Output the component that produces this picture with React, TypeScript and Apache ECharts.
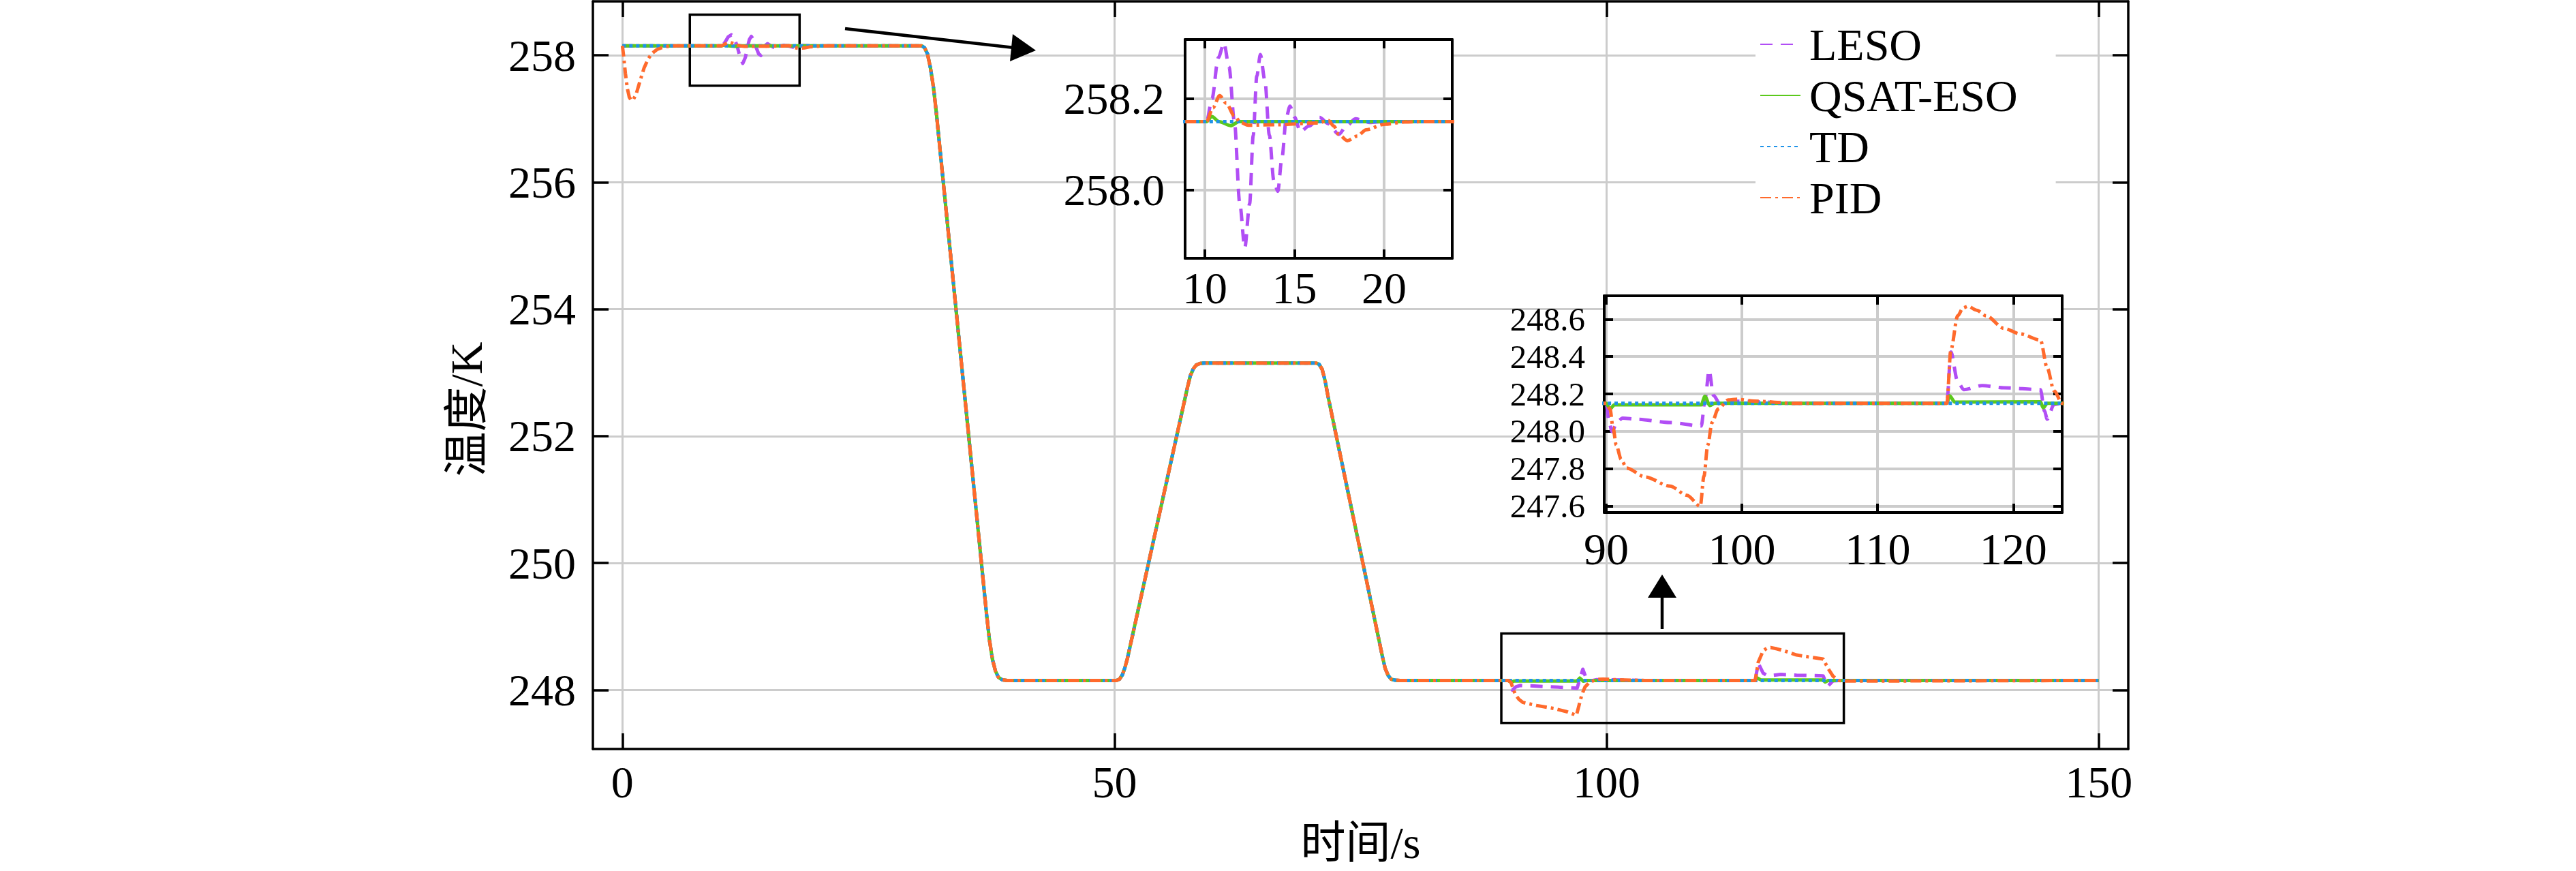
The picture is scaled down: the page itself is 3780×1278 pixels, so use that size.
import React, { useEffect, useRef } from 'react';
import * as echarts from 'echarts';

// ---------- data ----------
const SERIES_NAMES = ['LESO', 'QSAT-ESO', 'TD', 'PID'];

const X_TICKS_MAIN = [0, 50, 100, 150];
const Y_TICKS_MAIN = [248, 250, 252, 254, 256, 258];
const X_TICKS_INSET1 = [10, 15, 20];
const Y_TICKS_INSET1 = [258.0, 258.2];
const X_TICKS_INSET2 = [90, 100, 110, 120];
const Y_TICKS_INSET2 = [247.6, 247.8, 248.0, 248.2, 248.4, 248.6];

// shared set-point transitions (all four curves overlap here)
const TRANSITIONS = [
  [30.4, 258.15], [30.7, 258.12], [31.0, 258.02], [31.3, 257.8], [31.6, 257.5], [31.9, 257.09],
  [37.0, 249.19], [37.3, 248.78], [37.6, 248.48], [37.9, 248.3], [38.2, 248.2], [38.6, 248.16],
  [39.1, 248.15], [50.2, 248.15], [50.5, 248.17], [50.8, 248.24], [51.05, 248.35], [51.3, 248.49],
  [57.4, 252.76], [57.7, 252.95], [58.0, 253.06], [58.3, 253.12], [58.7, 253.145], [59.1, 253.15],
  [70.5, 253.15], [70.8, 253.13], [71.1, 253.05], [71.4, 252.87], [71.7, 252.62], [77.2, 248.54],
  [77.5, 248.34], [77.8, 248.23], [78.1, 248.17], [78.5, 248.155], [79.0, 248.15],
];

const LESO_START = [
  [0, 258.15], [10.1, 258.15], [10.4, 258.2], [10.75, 258.29], [11.07, 258.322], [11.35, 258.27],
  [11.65, 258.15], [11.95, 257.97], [12.23, 257.873], [12.5, 257.97], [12.7, 258.12], [12.9, 258.25],
  [13.1, 258.297], [13.35, 258.24], [13.6, 258.12], [13.85, 258.02], [14.07, 257.997], [14.3, 258.07],
  [14.55, 258.16], [14.75, 258.184], [15.0, 258.16], [15.33, 258.128], [15.8, 258.14], [16.4, 258.159],
  [16.9, 258.145], [17.47, 258.122], [17.9, 258.14], [18.4, 258.156], [19.2, 258.148], [20.0, 258.15],
  [30.0, 258.15],
];
const LESO_END = [
  [90.0, 248.15], [90.2, 248.05], [90.43, 247.999], [90.8, 248.05], [91.2, 248.071], [92.27, 248.065],
  [94.7, 248.047], [97.0, 248.029], [97.3, 248.181], [97.58, 248.327], [97.9, 248.193], [98.4, 248.144],
  [99.0, 248.162], [100.5, 248.16], [104.0, 248.15], [115.1, 248.15], [115.4, 248.424], [115.9, 248.266],
  [116.35, 248.223], [117.7, 248.245], [119.3, 248.233], [122.0, 248.223], [122.3, 248.108],
  [122.5, 248.065], [123.0, 248.144], [123.6, 248.15], [150.0, 248.15],
];

const QSAT_START = [
  [0, 258.15], [10.1, 258.15], [10.39, 258.161], [10.8, 258.15], [11.45, 258.141], [11.9, 258.15],
  [30.0, 258.15],
];
const QSAT_END = [
  [90.0, 248.15], [90.28, 248.12], [90.6, 248.142], [97.0, 248.142], [97.27, 248.187], [97.64, 248.138],
  [98.0, 248.15], [115.1, 248.15], [115.3, 248.19], [115.7, 248.156], [122.0, 248.158], [122.2, 248.126],
  [122.5, 248.15], [150.0, 248.15],
];

const TD_START = [[0, 258.15], [30.0, 258.15]];
const TD_END = [[90.0, 248.15], [150.0, 248.15]];

const PID_START = [
  [0, 258.15], [0.15, 257.95], [0.3, 257.72], [0.5, 257.48], [0.7, 257.34], [0.9, 257.29], [1.1, 257.3],
  [1.4, 257.39], [1.8, 257.6], [2.2, 257.8], [2.6, 257.94], [3.0, 258.03], [3.5, 258.09], [4.0, 258.12],
  [4.6, 258.14], [5.5, 258.15], [10.1, 258.15], [10.45, 258.18], [10.83, 258.207], [11.2, 258.19],
  [11.65, 258.162], [12.0, 258.148], [12.42, 258.142], [14.0, 258.143], [16.3, 258.147], [16.9, 258.152],
  [17.2, 258.14], [17.47, 258.122], [17.95, 258.108], [18.5, 258.118], [19.0, 258.132], [20.0, 258.144],
  [21.15, 258.149], [22.5, 258.15], [30.0, 258.15],
];
const PID_END = [
  [90.0, 248.15], [90.28, 248.12], [90.5, 248.02], [90.74, 247.926], [91.1, 247.85], [91.5, 247.804],
  [92.88, 247.756], [94.7, 247.707], [95.95, 247.658], [96.93, 247.6], [97.2, 247.76], [97.48, 247.926],
  [97.8, 248.047], [98.25, 248.12], [99.0, 248.168], [99.63, 248.172], [100.86, 248.162], [103.9, 248.15],
  [115.1, 248.15], [115.4, 248.436], [115.9, 248.618], [116.3, 248.66], [116.66, 248.669], [117.3, 248.648],
  [118.0, 248.618], [119.3, 248.551], [120.5, 248.521], [122.0, 248.488], [122.5, 248.339],
  [123.0, 248.217], [123.6, 248.15], [124.3, 248.14], [150.0, 248.15],
];

// zoom boxes drawn on the main axes: [xMin, yMax], [xMax, yMin]
const ZOOM_BOXES = [
  [[6.85, 258.64], [18.0, 257.52]],
  [[89.3, 248.89], [124.1, 247.48]],
];

// ---------- styles ----------
const FONT = "'Liberation Serif', 'Times New Roman', 'Noto Sans CJK SC', serif";
const COLORS = ['#B14EF5', '#5BC91C', '#1F93E8', '#FF6A2C'];
const DASHES: any[] = [[18, 12], 'solid', [5, 5], [16, 6, 4, 6]];

const SERIES_DATA = [
  [...LESO_START, ...TRANSITIONS, ...LESO_END],
  [...QSAT_START, ...TRANSITIONS, ...QSAT_END],
  [...TD_START, ...TRANSITIONS, ...TD_END],
  [...PID_START, ...TRANSITIONS, ...PID_END],
];

function xAxisPair(grid: number, min: number, max: number, ticks: number[], opts: any) {
  const common = {
    type: 'value', gridIndex: grid, min, max, z: opts.z,
    axisLine: { show: true, onZero: false, lineStyle: { color: '#000', width: opts.lineW } },
    axisTick: { show: true, inside: true, length: opts.tickLen, customValues: ticks, lineStyle: { color: '#000', width: opts.lineW } },
  };
  return [
    {
      ...common, position: 'bottom',
      axisLabel: {
        show: true, customValues: ticks, margin: opts.labelMargin, fontSize: 66, fontFamily: FONT, color: '#000',
        showMinLabel: true, showMaxLabel: true,
      },
      splitLine: { show: true, lineStyle: { color: '#cccccc', width: opts.gridW } },
      ...(opts.name ? { name: opts.name, nameLocation: 'middle', nameGap: opts.nameGap, nameTextStyle: { fontSize: 66, fontFamily: FONT, color: '#000' } } : {}),
    },
    { ...common, position: 'top', axisLabel: { show: false }, splitLine: { show: false } },
  ];
}

function yAxisPair(grid: number, min: number, max: number, ticks: number[], opts: any) {
  const common = {
    type: 'value', gridIndex: grid, min, max, z: opts.z,
    axisLine: { show: true, onZero: false, lineStyle: { color: '#000', width: opts.lineW } },
    axisTick: { show: true, inside: true, length: opts.tickLen, customValues: ticks, lineStyle: { color: '#000', width: opts.lineW } },
  };
  const fs = opts.labelFontSize || 66;
  return [
    {
      ...common, position: 'left',
      axisLabel: {
        show: true, customValues: ticks, margin: opts.labelMargin, fontSize: fs, fontFamily: FONT, color: '#000',
        lineHeight: fs, showMinLabel: true, showMaxLabel: true, hideOverlap: false,
        formatter: (v: number) => (opts.decimals ? v.toFixed(opts.decimals) : String(Math.round(v))),
      },
      splitLine: { show: true, lineStyle: { color: '#cccccc', width: opts.gridW } },
      ...(opts.name ? {
        name: opts.name, nameLocation: 'middle', nameGap: opts.nameGap,
        nameTextStyle: { fontSize: 66, fontFamily: FONT, color: '#000', padding: [0, 100, 0, 0] },
      } : {}),
    },
    { ...common, position: 'right', axisLabel: { show: false }, splitLine: { show: false } },
  ];
}

function buildSeries(axisIdx: number, width: number, z: number, withBoxes: boolean, smooth: number) {
  return SERIES_NAMES.map((name, i) => {
    const s: any = {
      name, type: 'line', xAxisIndex: axisIdx, yAxisIndex: axisIdx, data: SERIES_DATA[i],
      symbol: 'none', showSymbol: false, z, clip: true,
      smooth: smooth > 0 ? smooth : false,
      lineStyle: { color: COLORS[i], width, type: DASHES[i], join: 'round', cap: 'butt' },
      itemStyle: { color: COLORS[i] },
      emphasis: { disabled: true },
    };
    if (smooth > 0) s.smoothMonotone = 'x';
    if (withBoxes && i === 2) {
      s.markArea = {
        silent: true,
        itemStyle: { color: 'rgba(0,0,0,0)', borderColor: '#000', borderWidth: 3.5 },
        data: ZOOM_BOXES.map((b) => [{ coord: b[0] }, { coord: b[1] }]),
      };
    }
    return s;
  });
}

export default function App() {
  const ref = useRef<HTMLDivElement>(null);
  useEffect(() => {
    document.body.style.margin = '0';
    const chart = echarts.init(ref.current!, undefined, { renderer: 'svg' });
    const mainOpts = { z: 0, lineW: 3.5, tickLen: 23, gridW: 3 };
    const insetOpts = { z: 2, lineW: 4, tickLen: 13, gridW: 4 };
    const option: any = {
      animation: false,
      backgroundColor: '#fff',
      grid: [
        { left: 870, top: 2, width: 2253, height: 1097, show: false },
        { left: 1739, top: 58, width: 392, height: 321, show: true, backgroundColor: '#fff', borderWidth: 0, z: 1 },
        { left: 2354, top: 434, width: 672, height: 318, show: true, backgroundColor: '#fff', borderWidth: 0, z: 1 },
      ],
      xAxis: [
        ...xAxisPair(0, -3, 153, X_TICKS_MAIN, { ...mainOpts, labelMargin: 15, name: '时间/s', nameGap: 104 }),
        ...xAxisPair(1, 8.9, 23.8, X_TICKS_INSET1, { ...insetOpts, labelMargin: 10 }),
        ...xAxisPair(2, 89.85, 123.6, X_TICKS_INSET2, { ...insetOpts, labelMargin: 20 }),
      ],
      yAxis: [
        ...yAxisPair(0, 247.07, 258.85, Y_TICKS_MAIN, { ...mainOpts, labelMargin: 25, name: '温度/K', nameGap: 153 }),
        ...yAxisPair(1, 257.85, 258.33, Y_TICKS_INSET1, { ...insetOpts, labelMargin: 30, decimals: 1 }),
        ...yAxisPair(2, 247.566, 248.725, Y_TICKS_INSET2, { ...insetOpts, labelMargin: 28, decimals: 1, labelFontSize: 49 }),
      ],
      legend: {
        data: SERIES_NAMES, orient: 'vertical', left: 2576, top: 27,
        itemWidth: 59, itemHeight: 14, itemGap: 9, padding: [5, 56, 7, 6],
        backgroundColor: '#fff', selectedMode: false, z: 5,
        itemStyle: { opacity: 0 },
        textStyle: { fontSize: 66, lineHeight: 66, fontFamily: FONT, color: '#000', padding: [0, 0, 0, 8] },
      },
      series: [
        ...buildSeries(0, 5, 2, true, 0),
        ...buildSeries(2, 5, 3, false, 0.3),
        ...buildSeries(4, 5, 3, false, 0.3),
      ],
      graphic: [
        { type: 'line', z: 10, shape: { x1: 1240, y1: 42, x2: 1488, y2: 70 }, style: { stroke: '#000', lineWidth: 4.5 } },
        { type: 'polygon', z: 10, shape: { points: [[1520, 74], [1486, 50], [1482, 90]] }, style: { fill: '#000' } },
        { type: 'line', z: 10, shape: { x1: 2439, y1: 923, x2: 2439, y2: 872 }, style: { stroke: '#000', lineWidth: 4.5 } },
        { type: 'polygon', z: 10, shape: { points: [[2439, 843], [2418, 877], [2460, 877]] }, style: { fill: '#000' } },
      ],
    };
    chart.setOption(option);
    return () => chart.dispose();
  }, []);
  return <div ref={ref} style={{ width: 3780, height: 1278 }} />;
}
